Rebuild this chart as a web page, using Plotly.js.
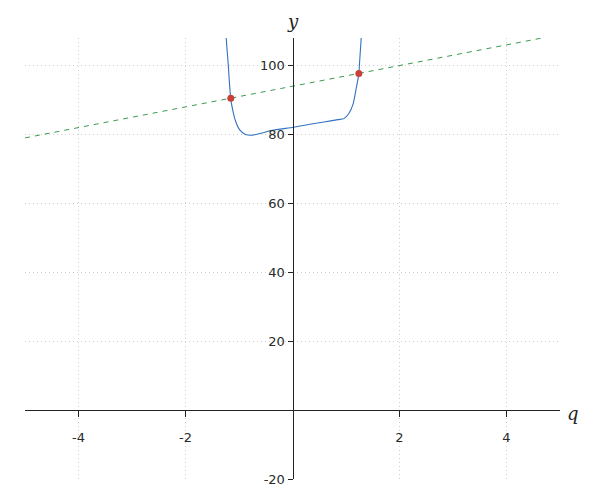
<!DOCTYPE html>
<html>
<head>
<meta charset="utf-8">
<script src="https://cdn.plot.ly/plotly-3.0.1.min.js"></script>
<style>html,body{margin:0;padding:0;background:#fff;}#chart{width:600px;height:500px;}</style>
</head>
<body>
<div id="chart"></div>
<script>
// Blue curve
const curveQ = [-1.262, -1.239, -1.202, -1.178, -1.153, -1.116, -1.065, -0.99, -0.88, -0.75, -0.57, -0.38, 0.02, 0.3, 0.585, 0.85, 0.96, 1.05, 1.134, 1.184, 1.24, 1.252, 1.284, 1.30];
const curveY = [116, 108.0, 100.5, 94.7, 90.2, 87.0, 83.9, 81.4, 80.0, 79.8, 80.4, 81.2, 82.1, 82.9, 83.6, 84.3, 84.6, 86.0, 88.9, 92.8, 97.6, 100.5, 108.0, 116];
// Green dashed line
const lineQ = [-5, 5];
const lineY = [79, 109];
// Red intersection points
const ptQ = [-1.153, 1.24];
const ptY = [90.5, 97.7];
// Ticks
const xTicks = [-4, -2, 2, 4];
const yTicks = [-20, 20, 40, 60, 80, 100];

const xr = [-5, 5], yr = [-20, 108];

const traces = [
  {x: lineQ, y: lineY, mode: 'lines', line: {color: '#3c9a4e', width: 1, dash: '5px,5px'}, hoverinfo: 'skip'},
  {x: curveQ, y: curveY, mode: 'lines', line: {color: '#3272c0', width: 1.1, shape: 'spline', smoothing: 0.6}, hoverinfo: 'skip'},
  {x: ptQ, y: ptY, mode: 'markers', marker: {color: '#c8403a', size: 7}, cliponaxis: false}
];

const layout = {
  width: 600, height: 500,
  margin: {l: 25, r: 40, t: 38, b: 21},
  paper_bgcolor: '#fff', plot_bgcolor: '#fff',
  showlegend: false,
  font: {family: 'DejaVu Sans, sans-serif', size: 13, color: '#2a2a2a'},
  xaxis: {
    range: xr, anchor: 'free', position: (0 - yr[0]) / (yr[1] - yr[0]),
    tickmode: 'array', tickvals: xTicks, ticktext: xTicks.map(String),
    ticks: 'outside', ticklen: 6, tickcolor: '#222', tickwidth: 1,
    showline: true, linecolor: '#222', linewidth: 1,
    showgrid: true, gridcolor: '#cfcfcf', griddash: '1px,3px', gridwidth: 1,
    zeroline: false, fixedrange: true, ticklabelstandoff: 9
  },
  yaxis: {
    range: yr, anchor: 'free', position: (0 - xr[0]) / (xr[1] - xr[0]),
    tickmode: 'array', tickvals: yTicks, ticktext: yTicks.map(String),
    ticks: 'outside', ticklen: 5, tickcolor: '#222', tickwidth: 1,
    showline: true, linecolor: '#222', linewidth: 1,
    showgrid: true, gridcolor: '#cfcfcf', griddash: '1px,3px', gridwidth: 1,
    zeroline: false, fixedrange: true
  },
  annotations: [
    {text: 'q', xref: 'paper', yref: 'paper', x: 1.0, y: (0 - yr[0]) / (yr[1] - yr[0]), xanchor: 'left', yanchor: 'middle', xshift: 5, yshift: -3, showarrow: false,
     font: {family: 'DejaVu Serif, serif', size: 18, color: '#222', style: 'italic'}},
    {text: 'y', xref: 'paper', yref: 'paper', x: 0.5, y: 1.0, xanchor: 'center', yanchor: 'bottom', yshift: 4, showarrow: false,
     font: {family: 'DejaVu Serif, serif', size: 18, color: '#222', style: 'italic'}}
  ]
};

Plotly.newPlot('chart', traces, layout, {displayModeBar: false, staticPlot: true});
</script>
</body>
</html>
